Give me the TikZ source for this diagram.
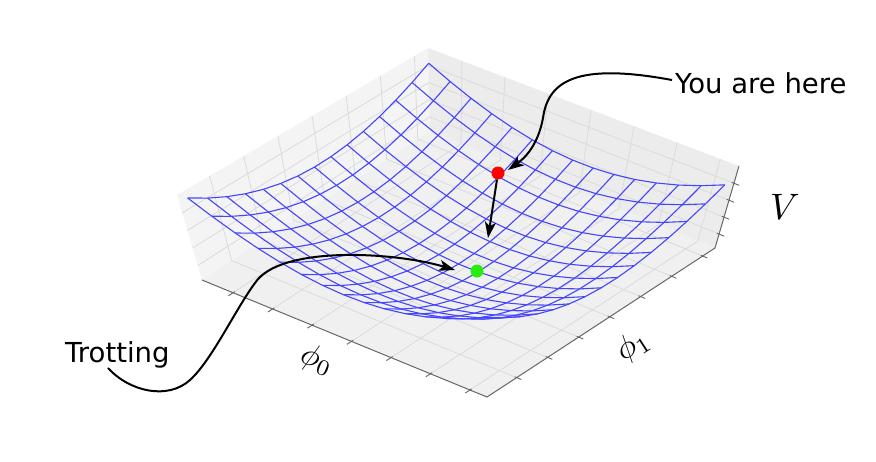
\documentclass[tikz,border=0pt]{standalone}
\usepackage{fontspec}
\newfontfamily\dejavu{DejaVu Sans}
\usetikzlibrary{arrows.meta,calc}
\definecolor{paneL}{gray}{0.955}
\definecolor{paneR}{gray}{0.925}
\definecolor{paneF}{gray}{0.94}
\definecolor{panegridc}{gray}{0.86}
\definecolor{wirec}{rgb}{0.27,0.27,1}
\definecolor{limec}{rgb}{0.15,0.93,0.05}
\begin{document}
\begin{tikzpicture}[x=1pt,y=-1pt,
  declare function={
    cc(\uu)=2*\uu-1;
    vv(\uu,\ww)=(cc(\uu)*cc(\uu)+cc(\ww)*cc(\ww)-0.11*cc(\uu)-0.11*cc(\ww))/2.29;
    flx(\uu,\ww)=211+275*\uu+220*\ww;
    fly(\uu,\ww)=279.4+112.9*\uu-143.7*\ww;
    wfx(\uu,\ww)=flx(\uu,\ww)+vv(\uu,\ww)*0.0977*(flx(\uu,\ww)-458);
    wfy(\uu,\ww)=fly(\uu,\ww)+vv(\uu,\ww)*(-84-2*\uu+\ww+3*\uu*\ww);
  },
  wire/.style={draw=wirec, line width=1.1pt, line join=round},
  panegrid/.style={draw=panegridc, line width=0.8pt},
  axisline/.style={draw=black!60, line width=1pt},
  tickmark/.style={draw=black!60, line width=0.9pt},
  pointer/.style={draw=black, line width=2pt, -{Stealth[length=16pt,width=11pt,inset=4pt]}},
  dot/.style={circle, inner sep=0pt, minimum size=13pt},
  ann/.style={font=\dejavu\fontsize{27.5}{32}\selectfont, inner sep=0pt},
  axlabel/.style={inner sep=0pt, scale=3.2}
]
\useasboundingbox (0,0) rectangle (876,461);
% box corners
\coordinate (Lb) at (202,280);
\coordinate (Lt) at (177,195);
\coordinate (Bb) at (430,131);
\coordinate (Bt) at (428,48);
\coordinate (Rb) at (715,248);
\coordinate (Rt) at (739,166);
\coordinate (Fb) at (487,397);
% panes
\fill[paneL] (Lb) -- (Lt) -- (Bt) -- (Bb) -- cycle;
\fill[paneR] (Bb) -- (Bt) -- (Rt) -- (Rb) -- cycle;
\fill[paneF] (Lb) -- (Bb) -- (Rb) -- (Fb) -- cycle;
% pane grids: phi0
\foreach \k in {0,...,6}{
  \pgfmathsetmacro{\f}{0.109+0.1385*\k}
  \draw[panegrid] ($(Lb)!\f!(Fb)$) -- ($(Bb)!\f!(Rb)$) -- ($(Bt)!\f!(Rt)$);
}
% pane grids: phi1
\foreach \k in {0,...,6}{
  \pgfmathsetmacro{\g}{0.13+0.136*\k}
  \draw[panegrid] ($(Fb)!\g!(Rb)$) -- ($(Lb)!\g!(Bb)$) -- ($(Lt)!\g!(Bt)$);
}
% pane grids: V
\foreach \k in {0,...,3}{
  \pgfmathsetmacro{\h}{0.17+0.2067*\k}
  \draw[panegrid] ($(Lb)!\h!(Lt)$) -- ($(Bb)!\h!(Bt)$) -- ($(Rb)!\h!(Rt)$);
}
% axes
\draw[axisline] (Lb) -- (Fb) -- (Rb) -- (Rt);
\foreach \k in {0,...,6}{
  \pgfmathsetmacro{\f}{0.109+0.1385*\k}
  \draw[tickmark] ($(Lb)!\f!(Fb)+(1.7,-1.1)$) -- ($(Lb)!\f!(Fb)+(-4.6,3)$);
  \pgfmathsetmacro{\g}{0.13+0.136*\k}
  \draw[tickmark] ($(Fb)!\g!(Rb)+(-1.9,-0.8)$) -- ($(Fb)!\g!(Rb)+(4.6,1.9)$);
}
\foreach \k in {0,...,3}{
  \pgfmathsetmacro{\h}{0.17+0.2067*\k}
  \draw[tickmark] ($(Rb)!\h!(Rt)+(-2.3,-0.9)$) -- ($(Rb)!\h!(Rt)+(5.1,2.1)$);
}
% wireframe
\foreach \i in {0,...,14}{
  \draw[wire] plot[variable=\t, domain=0:1, samples=15] ({wfx(\i/14,\t)},{wfy(\i/14,\t)});
  \draw[wire] plot[variable=\t, domain=0:1, samples=15] ({wfx(\t,\i/14)},{wfy(\t,\i/14)});
}
% dots
\node[dot, fill=red] (red) at (498,173) {};
\node[dot, fill=limec] (green) at (477,271) {};
% labels
\node[ann, anchor=base west] (you) at (675,93) {You are here};
\node[ann, anchor=base west] (trot) at (65,362) {Trotting};
\node[axlabel, rotate=-22] (phi0) at (317,360) {$\phi_0$};
\node[axlabel, rotate=33] (phi1) at (633,346) {$\phi_1$};
\node[axlabel, scale=1.15] (vlab) at (785,207) {$V$};
% arrows
\coordinate (youstart) at (672,80);
\coordinate (redtip) at (508,170);
\coordinate (downtip) at (488,238);
\coordinate (trotstart) at (108,368);
\coordinate (greentip) at (455,270);
\draw[pointer] (youstart) .. controls (575,62) and (548,82) .. (543,118)
  .. controls (538,145) and (525,158) .. (redtip);
\draw[pointer] (red) -- (downtip);
\draw[pointer] (trotstart) .. controls (130,392) and (168,400) .. (190,380)
  .. controls (212,360) and (235,310) .. (255,283)
  .. controls (280,245) and (395,252) .. (greentip);
\end{tikzpicture}
\end{document}
